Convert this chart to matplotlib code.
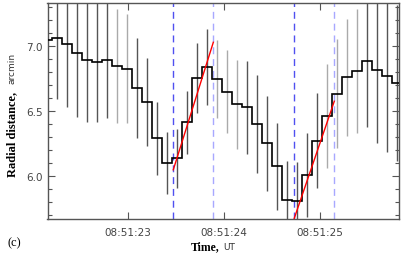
import matplotlib
matplotlib.use("Agg")
import matplotlib.pyplot as plt
import numpy as np

# time in seconds after 08:51:00 UT
t = np.array([22.163, 22.267, 22.371, 22.475, 22.579, 22.683, 22.788, 22.892, 22.996,
              23.100, 23.204, 23.308, 23.413, 23.517, 23.621, 23.725, 23.829, 23.933,
              24.038, 24.142, 24.246, 24.350, 24.454, 24.558, 24.663, 24.767, 24.871,
              24.975, 25.079, 25.183, 25.288, 25.392, 25.496, 25.600, 25.704, 25.808])
r = np.array([7.048, 7.059, 7.015, 6.946, 6.890, 6.879, 6.890, 6.846, 6.826,
              6.679, 6.569, 6.290, 6.100, 6.136, 6.413, 6.754, 6.838, 6.746,
              6.648, 6.552, 6.528, 6.398, 6.254, 6.075, 5.813, 5.808, 6.008,
              6.272, 6.464, 6.633, 6.759, 6.810, 6.887, 6.815, 6.772, 6.713])
err = np.array([0.460, 0.467, 0.482, 0.490, 0.477, 0.460, 0.446, 0.440, 0.420,
                0.385, 0.336, 0.280, 0.240, 0.225, 0.240, 0.270, 0.290, 0.300,
                0.318, 0.343, 0.360, 0.377, 0.365, 0.333, 0.300, 0.300, 0.325,
                0.367, 0.400, 0.420, 0.450, 0.477, 0.513, 0.564, 0.585, 0.600])
light = [7, 8, 17, 18, 19, 28, 29, 30, 31]

# marked intervals and linear fits
dash_dark = [23.475, 24.735]
dash_light = [23.892, 25.152]
fit1_t = [23.475, 23.892]
fit1_r = [6.048, 7.028]
fit2_t = [24.735, 25.152]
fit2_r = [5.675, 6.575]

tick_sec = [23, 24, 25]
tick_lab = ["08:51:23", "08:51:24", "08:51:25"]

fig = plt.figure(figsize=(4.07, 2.55), dpi=100)
ax = fig.add_axes([47.5/407, 1-220/255, (399-47.5)/407, (220-4)/255])

cols = ['#aaaaaa' if i in light else '#555555' for i in range(len(t))]
ax.vlines(t, r - err, r + err, colors=cols, linewidth=1.0, zorder=1)

dt = t[1] - t[0]
edges = np.concatenate([[t[0] - dt/2], (t[1:] + t[:-1]) / 2, [t[-1] + dt/2]])
ax.stairs(r, edges, color='black', linewidth=1.2, baseline=None, zorder=3)

for x in dash_dark:
    ax.axvline(x, color='#5050f0', linewidth=1.0, dashes=(5, 3.5), zorder=2)
for x in dash_light:
    ax.axvline(x, color='#a8a8ff', linewidth=1.0, dashes=(5, 3.5), zorder=2)

ax.plot(fit1_t, fit1_r, color='red', linewidth=1.0, zorder=4)
ax.plot(fit2_t, fit2_r, color='red', linewidth=1.0, zorder=4)

ax.set_xlim(22.165, 25.826)
ax.set_ylim(5.67, 7.33)
ax.set_xticks(tick_sec)
ax.set_xticklabels(tick_lab)
ax.set_yticks([6.0, 6.5, 7.0])
ax.set_yticks(np.arange(5.7, 7.35, 0.1), minor=True)
ax.tick_params(which='both', direction='in', top=True, right=True,
               colors='#555555', labelcolor='#444444', labelsize=7.5)
ax.tick_params(which='major', length=5, width=0.8)
ax.tick_params(which='minor', length=3, width=0.8)
ax.tick_params(axis='x', which='minor', length=0)
ax.tick_params(axis='x', pad=6)
for s in ax.spines.values():
    s.set_color('#555555')
    s.set_linewidth(1.0)

# composite axis titles
fig.text(220/407, 1-250/255, "Time,", ha='right', va='baseline',
         family='Liberation Serif', weight='bold', fontsize=8.5)
fig.text(223/407, 1-250/255, "UT", ha='left', va='baseline',
         family='DejaVu Sans', fontsize=6.5, color='#333333')
fig.text(12/407, 1-177/255, "Radial distance,", rotation=90, ha='center', va='bottom',
         family='Liberation Serif', weight='bold', fontsize=9)
fig.text(12/407, 1-84/255, "arcmin", rotation=90, ha='center', va='bottom',
         family='DejaVu Sans', fontsize=6.5, color='#333333')
fig.text(7/407, 1-243/255, "(c)", ha='left', va='center',
         family='Liberation Serif', fontsize=9)

fig.savefig("out.png", dpi=100)
